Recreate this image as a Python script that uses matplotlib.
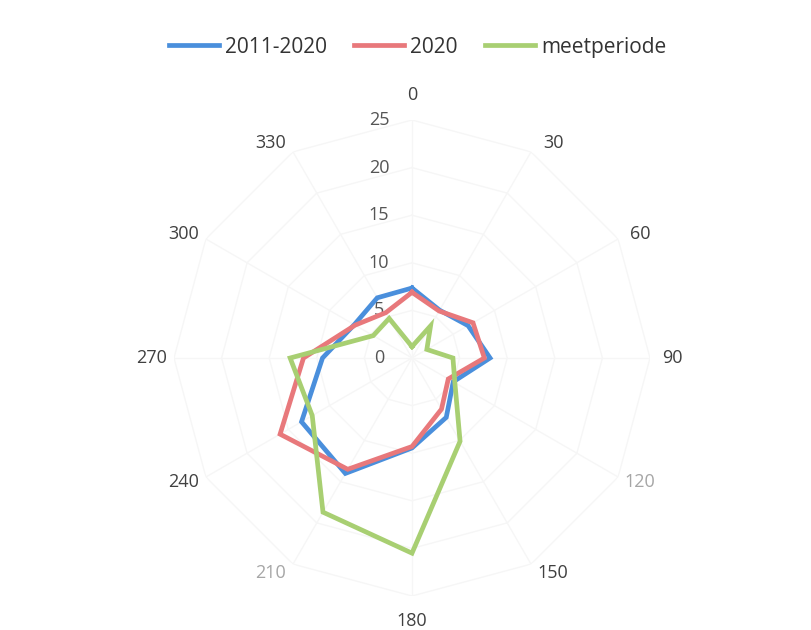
import numpy as np
import matplotlib.pyplot as plt

# wind direction sectors (degrees) and frequency per sector (%)
directions = [0, 30, 60, 90, 120, 150, 180, 210, 240, 270, 300, 330]
period_2011_2020 = [7.35, 5.8, 6.8, 8.2, 5.0, 7.2, 9.45, 14.0, 13.4, 9.4, 7.0, 7.3]
year_2020 = [6.9, 5.7, 7.4, 7.6, 4.4, 6.2, 9.3, 13.5, 16.0, 11.4, 6.9, 5.5]
meetperiode = [1.2, 3.9, 1.8, 4.3, 5.2, 10.1, 20.5, 18.7, 12.1, 12.8, 4.7, 4.8]
value_ticks = [0, 5, 10, 15, 20, 25]

plt.rcParams['font.family'] = ['Open Sans', 'DejaVu Sans']

fig = plt.figure(figsize=(8.11, 6.3), dpi=100)
ax = fig.add_axes([174 / 811, 34 / 630, 476 / 811, 476 / 630], projection='polar')
ax.set_theta_zero_location('N')
ax.set_theta_direction(-1)
ax.set_ylim(0, 25)
ax.grid(False)
ax.spines['polar'].set_visible(False)
ax.set_xticks([])
ax.set_yticks([])

theta = np.deg2rad(directions)
theta_closed = np.append(theta, theta[0])

# polygonal grid like an Excel radar chart (very faint in the scan)
for v in value_ticks[1:]:
    ax.plot(theta_closed, [v] * len(theta_closed), color='#f6f6f6', lw=1, zorder=1)
for t in theta:
    ax.plot([t, t], [0, 25], color='#f6f6f6', lw=1, zorder=1)

series = [
    ('2011-2020', period_2011_2020, '#4a8fdc'),
    ('2020', year_2020, '#e8787b'),
    ('meetperiode', meetperiode, '#a8cf72'),
]
for name, vals, col in series:
    ax.plot(theta_closed, vals + vals[:1], color=col, lw=3.4, label=name, zorder=3,
            solid_joinstyle='miter')

# value labels left of the vertical axis
for v in value_ticks:
    ax.annotate(str(v), xy=(0, v), xytext=(-33, 0), textcoords='offset pixels',
                ha='center', va='center', fontsize=13, color='#555555', zorder=2)

# category labels just outside the spoke ends
for d, t in zip(directions, theta):
    s, c = np.sin(t), np.cos(t)
    if abs(s) < 1e-6:
        off = (0, 25 * np.sign(c))
    else:
        off = (22 * np.sign(s), 10 * c)
    col = '#a6a6a6' if d in (120, 210) else '#404040'
    ax.annotate(str(d), xy=(t, 25), xytext=off, textcoords='offset pixels',
                ha='center', va='center', fontsize=13, color=col)

leg = fig.legend(loc='center', bbox_to_anchor=(0.515, 0.925), ncol=3, frameon=False,
                 fontsize=15, handlelength=2.4, handletextpad=0.3, columnspacing=1.3)
for txt in leg.get_texts():
    txt.set_color('#333333')

fig.savefig('out.png', dpi=100)
